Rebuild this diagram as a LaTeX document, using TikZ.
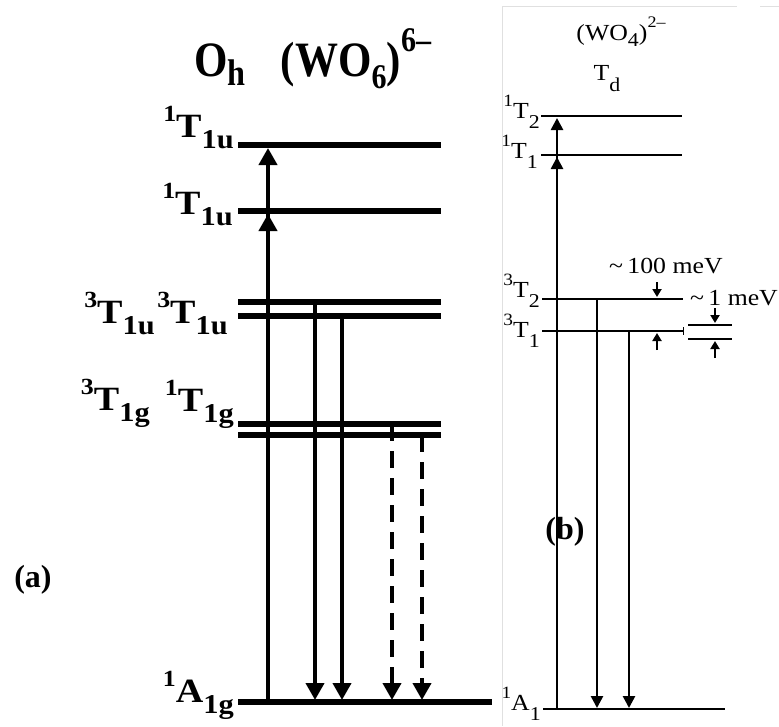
\documentclass[tikz,border=0pt]{standalone}
\usepackage{fontspec}
\usepackage{graphicx}
\setmainfont{Liberation Serif}
\usetikzlibrary{arrows.meta}
\newcommand\aSub[1]{\raisebox{-0.33em}{\scalebox{0.8}{#1}}}
\newcommand\aSup[1]{\raisebox{0.45em}{\scalebox{0.68}{#1}}}
\newcommand\bSub[1]{\raisebox{-0.45em}{\scalebox{0.85}{#1}}}
\newcommand\bSup[1]{\raisebox{0.5em}{\scalebox{0.75}{#1}}}
\begin{document}
\begin{tikzpicture}[x=1pt,y=-1pt,
  levA/.style={line width=5.5pt},
  arrA/.style={line width=4pt,-{Triangle[length=17pt,width=18pt]}},
  dashA/.style={line width=4pt,dash pattern=on 17pt off 10pt,-{Triangle[length=17pt,width=18pt]}},
  levB/.style={line width=2.8pt},
  arrB/.style={line width=2.6pt,-{Triangle[length=12pt,width=12pt]}},
  smallB/.style={line width=2.4pt,-{Triangle[length=8pt,width=9pt]}},
  labA/.style={font=\fontsize{34}{40}\selectfont\bfseries, inner sep=0pt, xscale=1.12},
  titA/.style={font=\fontsize{43}{48}\selectfont\bfseries, inner sep=0pt, yscale=1.15},
  labB/.style={font=\fontsize{23}{27}\selectfont, inner sep=0pt, xscale=1.12},
  panel/.style={font=\fontsize{32}{38}\selectfont\bfseries, inner sep=0pt},
  frameB/.style={line width=0.8pt, black!12}
]
\useasboundingbox (0,0) rectangle (779,726);
% panel frame of (b)
\draw[frameB] (502,726) -- (502,6) -- (737,6);
\draw[frameB] (760,6) -- (779,6);

% ---------- panel (a) ----------
\node[titA, anchor=base] (oh) at (220,76) {O\raisebox{-0.2em}{\scalebox{0.75}{h}}};
\node[titA, anchor=base] (wo6) at (356,76) {(WO\raisebox{-0.25em}{\scalebox{0.7}{6}})\raisebox{0.5em}{\scalebox{0.7}{6\textendash}}};

\coordinate (a1L) at (238,145); \coordinate (a1R) at (441,145);
\coordinate (a2L) at (238,211); \coordinate (a2R) at (441,211);
\coordinate (a3L) at (238,302); \coordinate (a3R) at (441,302);
\coordinate (a4L) at (238,316); \coordinate (a4R) at (441,316);
\coordinate (a5L) at (238,424); \coordinate (a5R) at (441,424);
\coordinate (a6L) at (238,435); \coordinate (a6R) at (441,435);
\coordinate (agL) at (238,702); \coordinate (agR) at (492,702);
\foreach \n in {a1,a2,a3,a4,a5,a6,ag} \draw[levA] (\n L) -- (\n R);

\coordinate (upS) at (268,702);
\coordinate (upT1) at (268,148);
\coordinate (upT2) at (268,214);
\draw[arrA] (upS) -- (upT1);
\draw[arrA] (upS) -- (upT2);

\coordinate (d1S) at (315,302); \coordinate (d1E) at (315,700);
\coordinate (d2S) at (342,316); \coordinate (d2E) at (342,700);
\coordinate (d3S) at (392,424); \coordinate (d3E) at (392,700);
\coordinate (d4S) at (422,435); \coordinate (d4E) at (422,700);
\draw[arrA] (d1S) -- (d1E);
\draw[arrA] (d2S) -- (d2E);
\draw[dashA] (d3S) -- (d3E);
\draw[dashA] (d4S) -- (d4E);

\node[labA, anchor=base east] (la1) at (234,137) {\aSup{1}T\aSub{1u}};
\node[labA, anchor=base east] (la2) at (233,214) {\aSup{1}T\aSub{1u}};
\node[labA, anchor=base east] (la3) at (155,323) {\aSup{3}T\aSub{1u}};
\node[labA, anchor=base east] (la4) at (228,323) {\aSup{3}T\aSub{1u}};
\node[labA, anchor=base east] (la5) at (150,410) {\aSup{3}T\aSub{1g}};
\node[labA, anchor=base east] (la6) at (234,411) {\aSup{1}T\aSub{1g}};
\node[labA, anchor=base east] (la7) at (234,702) {\aSup{1}A\aSub{1g}};
\node[panel] (pa) at (33,580) {(a)};

% ---------- panel (b) ----------
\node[labB, anchor=base] (wo4) at (621,40) {(WO\raisebox{-0.3em}{\scalebox{0.85}{4}})\raisebox{0.55em}{\scalebox{0.7}{2\textendash}}};
\node[labB, anchor=base] (td) at (607,80) {T\raisebox{-0.5em}{\scalebox{0.85}{d}}};

\coordinate (b1L) at (541,116); \coordinate (b1R) at (682,116);
\coordinate (b2L) at (541,155); \coordinate (b2R) at (682,155);
\coordinate (b3L) at (542,299); \coordinate (b3R) at (683,299);
\coordinate (b4L) at (542,331); \coordinate (b4R) at (683,331);
\coordinate (bgL) at (543,709); \coordinate (bgR) at (725,709);
\foreach \n in {b1,b2,b3,b4,bg} \draw[levB] (\n L) -- (\n R);
\coordinate (tkT) at (683,327); \coordinate (tkB) at (683,335);
\draw[line width=1pt] (tkT) -- (tkB);

\coordinate (bupS) at (557,709);
\coordinate (bupT1) at (557,118);
\coordinate (bupT2) at (557,157);
\draw[arrB] (bupS) -- (bupT1);
\draw[arrB] (bupS) -- (bupT2);
\coordinate (bd1S) at (597,299); \coordinate (bd1E) at (597,708);
\coordinate (bd2S) at (629,331); \coordinate (bd2E) at (629,708);
\draw[arrB] (bd1S) -- (bd1E);
\draw[arrB] (bd2S) -- (bd2E);

% splitting marks
\coordinate (m1S) at (657,282); \coordinate (m1E) at (657,297);
\coordinate (m2S) at (657,350); \coordinate (m2E) at (657,333);
\draw[smallB] (m1S) -- (m1E);
\draw[smallB] (m2S) -- (m2E);
\coordinate (s1L) at (688,325); \coordinate (s1R) at (732,325);
\coordinate (s2L) at (688,339); \coordinate (s2R) at (732,339);
\draw[levB] (s1L) -- (s1R);
\draw[levB] (s2L) -- (s2R);
\coordinate (m3S) at (715,308); \coordinate (m3E) at (715,323);
\coordinate (m4S) at (715,358); \coordinate (m4E) at (715,341);
\draw[smallB] (m3S) -- (m3E);
\draw[smallB] (m4S) -- (m4E);

\node[labB, anchor=base west] (e100) at (609,273) {\textasciitilde\,100 meV};
\node[labB, anchor=base west] (e1) at (690,305) {\textasciitilde\,1 meV};

\node[labB, anchor=base east] (lb1) at (540,118) {\bSup{1}T\bSub{2}};
\node[labB, anchor=base east] (lb2) at (538,158) {\bSup{1}T\bSub{1}};
\node[labB, anchor=base east] (lb3) at (540,297) {\bSup{3}T\bSub{2}};
\node[labB, anchor=base east] (lb4) at (540,337) {\bSup{3}T\bSub{1}};
\node[labB, anchor=base east] (lb5) at (541,710) {\bSup{1}A\bSub{1}};
\node[panel] (pb) at (565,532) {(b)};
\end{tikzpicture}
\end{document}
